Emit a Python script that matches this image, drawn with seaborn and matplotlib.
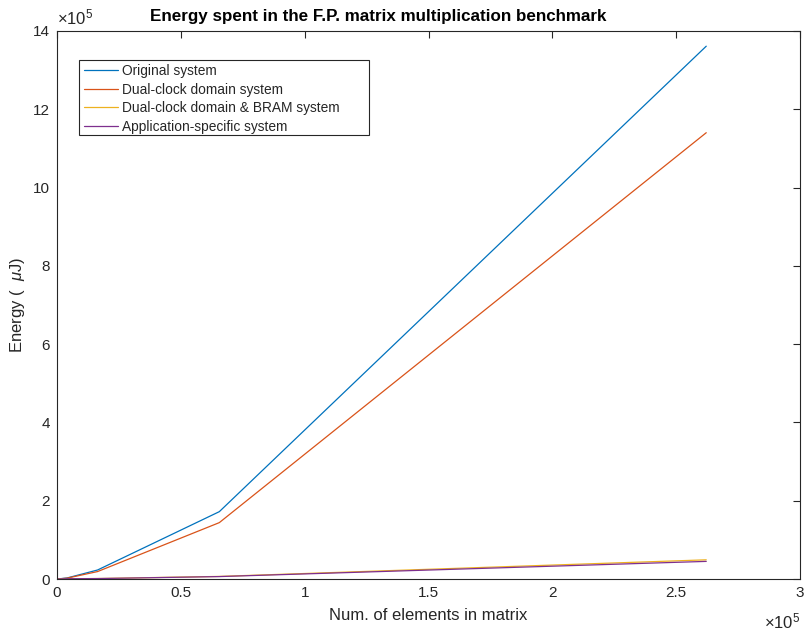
import numpy as np
import pandas as pd
import matplotlib
matplotlib.use("Agg")
import matplotlib.pyplot as plt
from matplotlib.patches import Rectangle
import seaborn as sns

# Number of matrix elements (16x16 ... 512x512)
elements = [256, 4096, 16384, 65536, 262144]

# Energy in uJ for each system
original = [40, 2700, 23000, 172000, 1361000]
dual_clock = [34, 2250, 19000, 144000, 1140000]
dual_clock_bram = [15, 700, 1200, 6600, 49000]
app_specific = [14, 650, 1100, 6200, 45000]

series_names = [
    "Original system",
    "Dual-clock domain system",
    "Dual-clock domain & BRAM system",
    "Application-specific system",
]
colors = ["#0072BD", "#D95319", "#EDB120", "#7E2F8E"]

frames = []
for name, vals in zip(series_names, [original, dual_clock, dual_clock_bram, app_specific]):
    frames.append(pd.DataFrame({"elements": elements, "energy": vals, "system": name}))
df = pd.concat(frames, ignore_index=True)

sns.set_theme(style="white")
plt.rcParams["font.family"] = ["Liberation Sans", "DejaVu Sans"]
plt.rcParams["mathtext.fontset"] = "custom"
plt.rcParams["mathtext.it"] = "Liberation Sans:italic"
plt.rcParams["mathtext.rm"] = "Liberation Sans"

fig = plt.figure(figsize=(8.05, 6.31), dpi=100)
ax = fig.add_axes([0.0708, 0.0824, 0.9230, 0.8686])

sns.lineplot(data=df, x="elements", y="energy", hue="system", hue_order=series_names,
             palette=colors, linewidth=0.9, ax=ax, legend=True)

axc = "#262626"
ax.set_xlim(0, 3e5)
ax.set_ylim(0, 14e5)
ax.set_xticks(np.arange(0, 3.01e5, 0.5e5))
ax.set_xticklabels(["0", "0.5", "1", "1.5", "2", "2.5", "3"])
ax.set_yticks(np.arange(0, 14.01e5, 2e5))
ax.set_yticklabels([str(v) for v in range(0, 15, 2)])
ax.tick_params(direction="in", length=5, width=0.8, colors=axc, labelsize=11,
               top=True, right=True, labelcolor=axc, pad=5)
for s in ax.spines.values():
    s.set_color(axc)
    s.set_linewidth(0.8)
    s.set_visible(True)

ax.set_xlabel("Num. of elements in matrix", fontsize=12, color=axc, labelpad=6)
ax.set_ylabel("Energy (  $\\mu$J)", fontsize=12, color=axc, labelpad=4)
ax.text(0.432, 1.012, "Energy spent in the F.P. matrix multiplication benchmark",
        transform=ax.transAxes, fontsize=12.25, fontweight="bold", color="black",
        ha="center", va="bottom")

# exponent markers
ax.text(0.0, 1.006, "$\\times 10^{5}$", transform=ax.transAxes, fontsize=12,
        color=axc, ha="left", va="bottom")
ax.text(1.0, -0.077, "$\\times 10^{5}$", transform=ax.transAxes, fontsize=12,
        color=axc, ha="right", va="center")

# legend entries with a separately drawn box
leg = ax.legend(loc="upper left", bbox_to_anchor=(0.0363, 0.940), fontsize=9.9,
                frameon=False, handlelength=2.47, handletextpad=0.29,
                borderpad=0, labelspacing=0.345, borderaxespad=0)
for line in leg.get_lines():
    line.set_linewidth(0.9)
ax.add_patch(Rectangle((0.0296, 0.810), 0.3904, 0.137, transform=ax.transAxes,
                       facecolor="white", edgecolor=axc, linewidth=0.8, zorder=4))
leg.set_zorder(5)

fig.savefig("out.png", dpi=100)
